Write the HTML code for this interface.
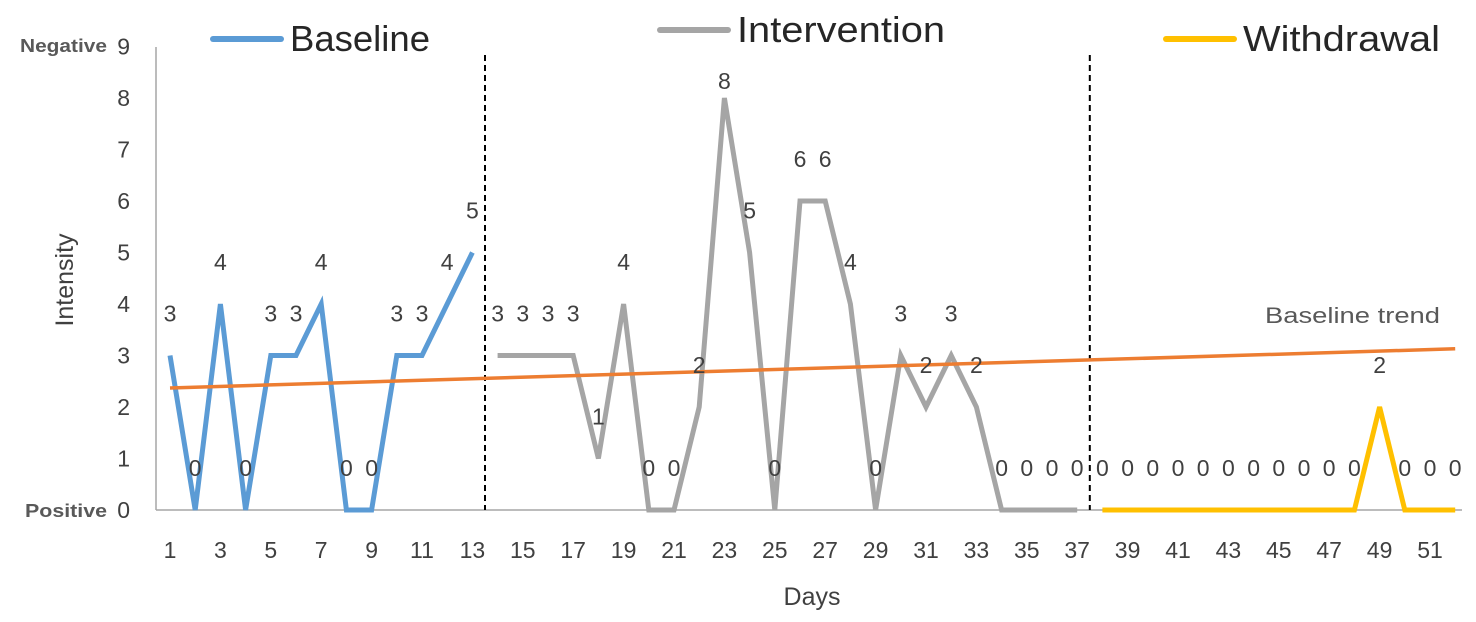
<!DOCTYPE html>
<html><head><meta charset="utf-8"><style>
html,body{margin:0;padding:0;background:#fff;}
svg{display:block;font-family:"Liberation Sans",sans-serif;}
</style></head><body>
<svg id="c" width="1476" height="622" viewBox="0 0 1476 622"></svg>
<script>
const baselineDays=[1,2,3,4,5,6,7,8,9,10,11,12,13];
const baselineVals=[3,0,4,0,3,3,4,0,0,3,3,4,5];
const interventionDays=[14,15,16,17,18,19,20,21,22,23,24,25,26,27,28,29,30,31,32,33,34,35,36,37];
const interventionVals=[3,3,3,3,1,4,0,0,2,8,5,0,6,6,4,0,3,2,3,2,0,0,0,0];
const withdrawalDays=[38,39,40,41,42,43,44,45,46,47,48,49,50,51,52];
const withdrawalVals=[0,0,0,0,0,0,0,0,0,0,0,2,0,0,0];
const trendStart=2.37, trendEnd=3.13;
const xTicks=[1,3,5,7,9,11,13,15,17,19,21,23,25,27,29,31,33,35,37,39,41,43,45,47,49,51];
const yTicks=[0,1,2,3,4,5,6,7,8,9];
const phaseBreaks=[13.5,37.5];

const NS="http://www.w3.org/2000/svg";
const svg=document.getElementById('c');
const X=d=>170+(d-1)*25.2;
const Y=v=>510-v*51.5;
function el(t,a,txt){const e=document.createElementNS(NS,t);for(const k in a)e.setAttribute(k,a[k]);if(txt!==undefined)e.textContent=txt;svg.appendChild(e);return e;}

let e=el('line',{x1:156,y1:47,x2:156,y2:510,stroke:'#a6a6a6','stroke-width':1.5});


e=el('line',{x1:156,y1:510,x2:1462,y2:510,stroke:'#a6a6a6','stroke-width':1.5});



yTicks.forEach(v=>{
  const t=el('text',{x:130,y:Y(v)+8,'text-anchor':'end','font-size':23,fill:'#404040'},String(v));
  
  
});
e=el('text',{x:20,y:52,'font-size':18,'font-weight':'bold',fill:'#595959',textLength:87,lengthAdjust:'spacingAndGlyphs'},'Negative');


e=el('text',{x:25,y:517,'font-size':18,'font-weight':'bold',fill:'#595959',textLength:82,lengthAdjust:'spacingAndGlyphs'},'Positive');



xTicks.forEach(d=>{
  const t=el('text',{x:X(d),y:558,'text-anchor':'middle','font-size':23,fill:'#404040'},String(d));
  
  
});
e=el('text',{x:812,y:605,'text-anchor':'middle','font-size':25,fill:'#404040'},'Days');


e=el('text',{x:0,y:0,'text-anchor':'middle','font-size':25,fill:'#404040',transform:'translate(73,280) rotate(-90)'},'Intensity');



phaseBreaks.forEach(p=>{
  const l=el('line',{x1:X(p),y1:55,x2:X(p),y2:510,stroke:'#000','stroke-width':2,'stroke-dasharray':'6,4'});
  
  
});

function series(days,vals,color,name){
  const pts=days.map((d,i)=>X(d)+','+Y(vals[i])).join(' ');
  const p=el('polyline',{points:pts,fill:'none',stroke:color,'stroke-width':5,'stroke-linejoin':'miter'});
  
  
}
series(baselineDays,baselineVals,'#5b9bd5','baseline');
series(interventionDays,interventionVals,'#a5a5a5','intervention');
series(withdrawalDays,withdrawalVals,'#ffc000','withdrawal');

e=el('line',{x1:X(1),y1:Y(trendStart),x2:X(52),y2:Y(trendEnd),stroke:'#ed7d31','stroke-width':3.5});


e=el('text',{x:1265,y:323,'font-size':22,fill:'#595959',textLength:175,lengthAdjust:'spacingAndGlyphs'},'Baseline trend');



function labels(days,vals,name){
  days.forEach((d,i)=>{
    const t=el('text',{x:X(d),y:Math.max(Y(vals[i])-34,89),'text-anchor':'middle','font-size':23,fill:'#404040'},String(vals[i]));
    
    
  });
}
labels(baselineDays,baselineVals,'baseline');
labels(interventionDays,interventionVals,'intervention');
labels(withdrawalDays,withdrawalVals,'withdrawal');

function legend(x1,y,color,txt,name,w){
  const l=el('line',{x1:x1,y1:y,x2:x1+68,y2:y,stroke:color,'stroke-width':6,'stroke-linecap':'round'});
  
  
  const t=el('text',{x:x1+77,y:y+12,'font-size':36,fill:'#262626',textLength:w,lengthAdjust:'spacingAndGlyphs'},txt);
  
  
}
legend(213,39,'#5b9bd5','Baseline','baseline',140);
legend(660,30,'#a5a5a5','Intervention','intervention',208);
legend(1166,39,'#ffc000','Withdrawal','withdrawal',197);
</script>
</body></html>
